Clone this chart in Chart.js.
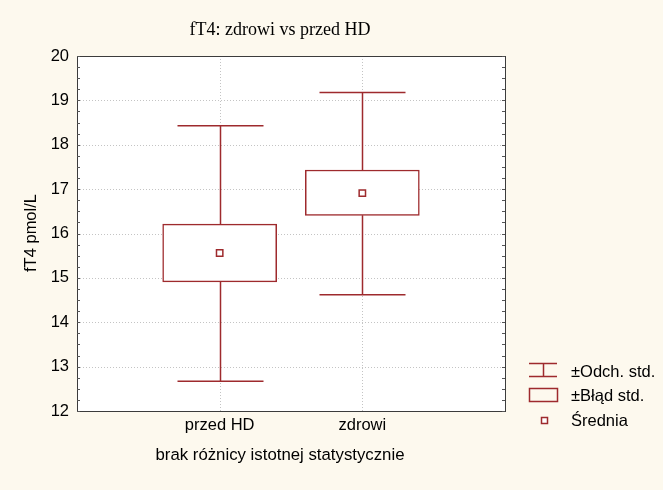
<!DOCTYPE html>
<html>
<head>
<meta charset="utf-8">
<script src="https://cdn.jsdelivr.net/npm/chart.js@4/dist/chart.umd.min.js"></script>
<style>
html,body{margin:0;padding:0;background:#fdf9ee;}
#wrap{width:663px;height:490px;}
</style>
</head>
<body>
<div id="wrap"><canvas id="c" width="663" height="490"></canvas></div>
<script>
const categories = ['przed HD', 'zdrowi'];
const means = [15.56, 16.91];
const seLow = [14.91, 16.41];
const seHigh = [16.21, 17.43];
const sdLow = [12.67, 14.62];
const sdHigh = [18.43, 19.18];
const yTicks = [12, 13, 14, 15, 16, 17, 18, 19, 20];

const chartTitle = 'fT4: zdrowi vs przed HD';
const yTitle = 'fT4 pmol/L';
const xTitle = 'brak różnicy istotnej statystycznie';
const legendLabels = ['±Odch. std.', '±Błąd std.', 'Średnia'];

const RED = '#9e2a2d';
const BG = '#fdf9ee';
const SANS = '"Liberation Sans", Arial, sans-serif';

const decor = {
  id: 'decor',
  beforeDraw(chart) {
    const {ctx, chartArea: a, scales: {x, y}} = chart;
    ctx.save();
    ctx.fillStyle = BG;
    ctx.fillRect(0, 0, chart.width, chart.height);
    ctx.fillStyle = '#ffffff';
    ctx.fillRect(a.left, a.top, a.right - a.left, a.bottom - a.top);
    ctx.strokeStyle = '#c4c4c4';
    ctx.lineWidth = 1;
    ctx.setLineDash([1, 2]);
    yTicks.forEach(v => {
      if (v === 12 || v === 20) return;
      const py = Math.round(y.getPixelForValue(v)) + 0.5;
      ctx.beginPath(); ctx.moveTo(a.left, py); ctx.lineTo(a.right, py); ctx.stroke();
    });
    categories.forEach((c, i) => {
      const px = Math.round(x.getPixelForValue(i + 1)) + 0.5;
      ctx.beginPath(); ctx.moveTo(px, a.top); ctx.lineTo(px, a.bottom); ctx.stroke();
    });
    ctx.setLineDash([]);
    ctx.restore();
  },
  beforeDatasetsDraw(chart) {
    const {ctx, scales: {x, y}} = chart;
    ctx.save();
    ctx.strokeStyle = RED;
    ctx.lineWidth = 1.5;
    const capHalf = 43;
    categories.forEach((c, i) => {
      const px = Math.round(x.getPixelForValue(i + 1)) + 0.5;
      const yHi = y.getPixelForValue(sdHigh[i]);
      const yLo = y.getPixelForValue(sdLow[i]);
      const bTop = y.getPixelForValue(seHigh[i]);
      const bBot = y.getPixelForValue(seLow[i]);
      ctx.beginPath();
      ctx.moveTo(px, yHi); ctx.lineTo(px, bTop);
      ctx.moveTo(px, bBot); ctx.lineTo(px, yLo);
      ctx.moveTo(px - capHalf, yHi); ctx.lineTo(px + capHalf, yHi);
      ctx.moveTo(px - capHalf, yLo); ctx.lineTo(px + capHalf, yLo);
      ctx.stroke();
    });
    ctx.restore();
  },
  afterDraw(chart) {
    const {ctx, chartArea: a, scales: {x, y}} = chart;
    ctx.save();
    ctx.strokeStyle = '#3c3c3c';
    ctx.lineWidth = 1;
    ctx.strokeRect(Math.round(a.left) + 0.5, Math.round(a.top) + 0.5, Math.round(a.right - a.left), Math.round(a.bottom - a.top));
    ctx.strokeStyle = '#555';
    for (let v = 12; v <= 20.001; v += 0.25) {
      const py = Math.round(y.getPixelForValue(v)) + 0.5;
      ctx.beginPath();
      ctx.moveTo(a.left, py); ctx.lineTo(a.left + 3, py);
      ctx.moveTo(a.right - 3, py); ctx.lineTo(a.right, py);
      ctx.stroke();
    }
    ctx.fillStyle = '#000';
    ctx.textAlign = 'center';
    ctx.textBaseline = 'middle';
    ctx.font = '18px "Liberation Serif", "Times New Roman", serif';
    ctx.fillText(chartTitle, 280, 30);
    ctx.font = '16.8px ' + SANS;
    ctx.fillText(xTitle, 280, 455);
    ctx.font = '16.5px ' + SANS;
    ctx.save();
    ctx.translate(31, 233);
    ctx.rotate(-Math.PI / 2);
    ctx.fillText(yTitle, 0, 0);
    ctx.restore();
    ctx.textAlign = 'left';
    ctx.strokeStyle = RED;
    ctx.lineWidth = 1.5;
    ctx.beginPath();
    ctx.moveTo(529, 363.5); ctx.lineTo(557, 363.5);
    ctx.moveTo(529, 376.5); ctx.lineTo(557, 376.5);
    ctx.moveTo(543.5, 363.5); ctx.lineTo(543.5, 376.5);
    ctx.stroke();
    ctx.strokeRect(529.5, 388.5, 28, 13);
    ctx.fillStyle = '#fff';
    ctx.fillRect(541, 417, 6, 6);
    ctx.strokeRect(541.5, 417.5, 6, 6);
    ctx.fillStyle = '#000';
    ctx.fillText(legendLabels[0], 571, 372);
    ctx.fillText(legendLabels[1], 571, 396);
    ctx.fillText(legendLabels[2], 571, 421);
    ctx.restore();
  }
};

new Chart(document.getElementById('c'), {
  data: {
    datasets: [
      {
        type: 'bar',
        order: 2,
        data: categories.map((c, i) => ({x: i + 1, y: [seLow[i], seHigh[i]]})),
        backgroundColor: '#ffffff',
        borderColor: RED,
        borderWidth: 1.5,
        borderSkipped: false,
        barThickness: 114
      },
      {
        type: 'scatter',
        order: 1,
        data: categories.map((c, i) => ({x: i + 1, y: means[i]})),
        pointStyle: 'rect',
        pointRadius: 4.5,
        backgroundColor: '#ffffff',
        borderColor: RED,
        borderWidth: 1.5
      }
    ]
  },
  options: {
    responsive: false,
    animation: false,
    devicePixelRatio: 1,
    layout: {padding: {left: 0, right: 158, top: 56, bottom: 0}},
    plugins: {legend: {display: false}, tooltip: {enabled: false}, title: {display: false}},
    scales: {
      x: {
        type: 'linear', min: 0, max: 3, offset: false,
        afterBuildTicks: s => { s.ticks = categories.map((c, i) => ({value: i + 1})); },
        ticks: {callback: v => categories[v - 1] || '', color: '#000', font: {size: 16.5, family: SANS}, padding: 5, maxRotation: 0},
        grid: {display: false, offset: false, drawTicks: false},
        border: {display: false},
        afterFit: s => { s.height = 79; }
      },
      y: {
        min: 12, max: 20,
        afterBuildTicks: s => { s.ticks = yTicks.map(v => ({value: v})); },
        ticks: {color: '#000', font: {size: 16.5, family: SANS}, padding: 8},
        grid: {display: false, drawTicks: false},
        border: {display: false},
        afterFit: s => { s.width = 77; }
      }
    }
  },
  plugins: [decor]
});
</script>
</body>
</html>
